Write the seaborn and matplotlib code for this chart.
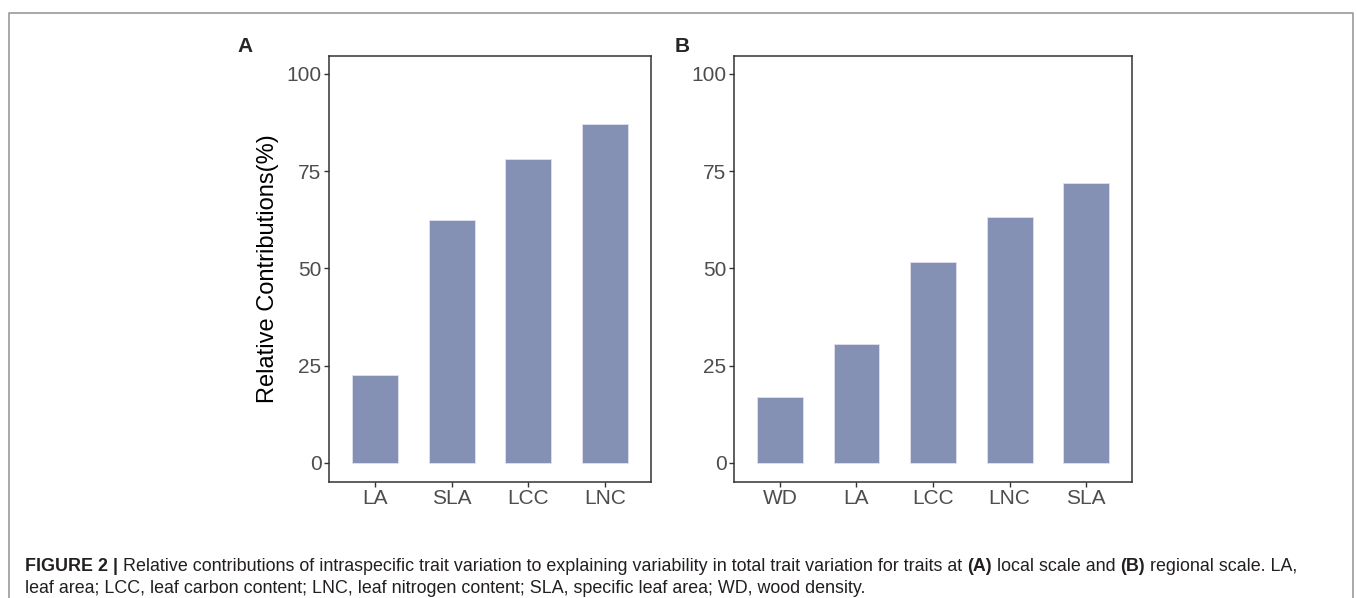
import matplotlib
matplotlib.use('Agg')
import matplotlib.pyplot as plt
import seaborn as sns
import pandas as pd
from matplotlib.lines import Line2D

sns.set_theme(style="white")
plt.rcParams['font.family'] = ['Liberation Sans', 'DejaVu Sans']

# data
local_traits = ['LA', 'SLA', 'LCC', 'LNC']
local_values = [22.7, 62.5, 78.1, 87.2]
regional_traits = ['WD', 'LA', 'LCC', 'LNC', 'SLA']
regional_values = [16.9, 30.5, 51.6, 63.2, 72.0]
y_ticks = [0, 25, 50, 75, 100]

bar_color = '#8491B4'
W, H = 1357, 598

fig = plt.figure(figsize=(W / 100, H / 100), dpi=100)
fig.patch.set_facecolor('white')

ax_a = fig.add_axes([329 / W, 1 - 482 / H, 322 / W, 426.3 / H])
ax_b = fig.add_axes([734 / W, 1 - 482 / H, 398 / W, 426.3 / H])

panels = [(ax_a, local_traits, local_values), (ax_b, regional_traits, regional_values)]
for ax, traits, vals in panels:
    df = pd.DataFrame({'trait': traits, 'value': vals})
    sns.barplot(data=df, x='trait', y='value', order=traits, color=bar_color,
                saturation=1, width=0.6, edgecolor='#dfe2ea', linewidth=0.6, ax=ax)
    ax.set_xlim(-0.6, len(traits) - 0.4)
    ax.set_ylim(-4.9, 104.7)
    ax.set_yticks(y_ticks)
    ax.set_xlabel('')
    ax.set_ylabel('')
    for side in ['top', 'right', 'bottom', 'left']:
        ax.spines[side].set_visible(True)
        ax.spines[side].set_color('#333333')
        ax.spines[side].set_linewidth(1.1)
    ax.tick_params(axis='both', bottom=True, left=True, length=3.4, width=1,
                   color='#333333', labelsize=15, labelcolor='#4d4d4d', pad=2)

ax_a.set_ylabel('Relative Contributions(%)', fontsize=17, color='black', va='center')
ax_a.yaxis.set_label_coords((268 - 329) / 322, 0.5)

# panel letters
fig.text(245 / W, 1 - 47 / H, 'A', fontsize=15, fontweight='bold', ha='center', va='center')
fig.text(682 / W, 1 - 47 / H, 'B', fontsize=15, fontweight='bold', ha='center', va='center')

# outer frame
fig.add_artist(Line2D([9 / W, 9 / W, 1353 / W, 1353 / W], [0, 1 - 13 / H, 1 - 13 / H, 0],
                      transform=fig.transFigure, color='#9a9a9a', lw=1.2))

# caption, bold and regular pieces laid out on one baseline
fs = 12.9
cap_color = '#231f20'
line1 = [('FIGURE 2', 'bold'), (' | ', 'bold'),
         ('Relative contributions of intraspecific trait variation to explaining variability in total trait variation for traits at ', 'normal'),
         ('(A)', 'bold'), (' local scale and ', 'normal'), ('(B)', 'bold'),
         (' regional scale. LA,', 'normal')]
line2 = 'leaf area; LCC, leaf carbon content; LNC, leaf nitrogen content; SLA, specific leaf area; WD, wood density.'

renderer = fig.canvas.get_renderer()
x = 25 / W
for txt, wt in line1:
    t = fig.text(x, 1 - 571 / H, txt, fontsize=fs, fontweight=wt, color=cap_color,
                 va='baseline', ha='left')
    x += t.get_window_extent(renderer).width / W
fig.text(25 / W, 1 - 593 / H, line2, fontsize=fs, color=cap_color, va='baseline', ha='left')

fig.savefig('out.png', dpi=100)
